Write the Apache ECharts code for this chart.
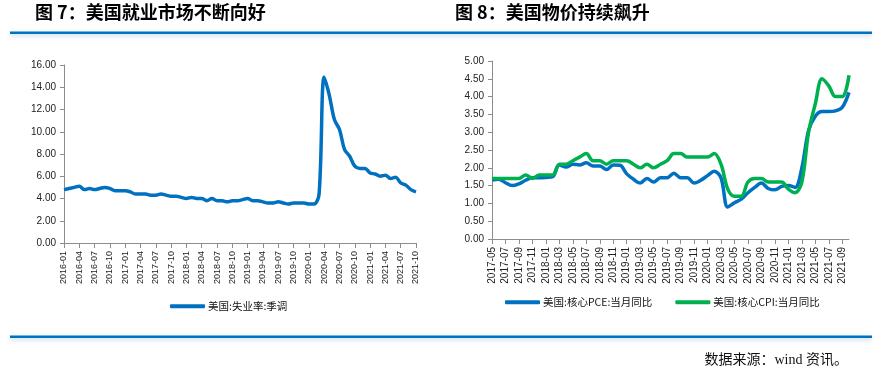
<!DOCTYPE html>
<html>
<head>
<meta charset="utf-8">
<script src="https://cdn.jsdelivr.net/npm/echarts@6/dist/echarts.min.js"></script>
<style>
html,body{margin:0;padding:0;background:#fff;}
#c{width:877px;height:380px;}
</style>
</head>
<body>
<div id="c"></div>
<script>
function months(y, m, n) {
  var out = [];
  for (var i = 0; i < n; i++) {
    var mm = m + i, yy = y + Math.floor((mm - 1) / 12);
    mm = ((mm - 1) % 12) + 1;
    out.push(yy + '-' + (mm < 10 ? '0' + mm : mm));
  }
  return out;
}
// Left chart: 2016-01 .. 2021-10
var leftCategories = months(2016, 1, 70);
var unemployment = [
  4.8, 4.9, 5.0, 5.1, 4.8, 4.9, 4.8, 4.9, 5.0, 4.9, 4.7, 4.7,
  4.7, 4.6, 4.4, 4.4, 4.4, 4.3, 4.3, 4.4, 4.3, 4.2, 4.2, 4.1,
  4.0, 4.1, 4.0, 4.0, 3.8, 4.0, 3.8, 3.8, 3.7, 3.8, 3.8, 3.9,
  4.0, 3.8, 3.8, 3.7, 3.6, 3.6, 3.7, 3.6, 3.5, 3.6, 3.6, 3.6,
  3.5, 3.5, 4.4, 14.9, 13.3, 11.1, 10.2, 8.4, 7.8, 6.9, 6.7, 6.7,
  6.3, 6.2, 6.0, 6.1, 5.8, 5.9, 5.4, 5.2, 4.8, 4.6
];
var leftTicks = [0, 2, 4, 6, 8, 10, 12, 14, 16];

// Right chart: 2017-05 .. 2021-10
var rightCategories = months(2017, 5, 54);
var corePCE = [
  1.66, 1.68, 1.58, 1.50, 1.55, 1.65, 1.72, 1.72,
  1.73, 1.75, 2.08, 2.02, 2.10, 2.08, 2.14, 2.05, 2.05, 1.95, 2.08, 2.07,
  1.83, 1.68, 1.57, 1.70, 1.60, 1.72, 1.72, 1.85, 1.72, 1.72, 1.57, 1.65,
  1.78, 1.90, 1.72, 0.90, 1.02, 1.12, 1.30, 1.45, 1.57, 1.42, 1.38, 1.48,
  1.50, 1.45, 2.00, 3.05, 3.45, 3.58, 3.58, 3.60, 3.70, 4.12
];
var coreCPI = [
  1.7, 1.7, 1.7, 1.7, 1.7, 1.8, 1.7, 1.8,
  1.8, 1.8, 2.1, 2.1, 2.2, 2.3, 2.4, 2.2, 2.2, 2.1, 2.2, 2.2,
  2.2, 2.1, 2.0, 2.1, 2.0, 2.1, 2.2, 2.4, 2.4, 2.3, 2.3, 2.3,
  2.3, 2.4, 2.1, 1.4, 1.2, 1.2, 1.6, 1.7, 1.7, 1.6, 1.6, 1.6,
  1.4, 1.3, 1.6, 3.0, 3.8, 4.5, 4.3, 4.0, 4.0, 4.6
];
var rightTicks = [0, 0.5, 1, 1.5, 2, 2.5, 3, 3.5, 4, 4.5, 5];

var titleLeft = '图 7：美国就业市场不断向好';
var titleRight = '图 8：美国物价持续飙升';
var seriesNames = ['美国:失业率:季调', '美国:核心PCE:当月同比', '美国:核心CPI:当月同比'];
var source = '数据来源：wind 资讯。';

var BLUE = '#0070C0', GREEN = '#00B050';
var axisColor = '#8c8c8c', labelColor = '#222';
var latin = '"Liberation Sans", Arial, "Noto Sans CJK SC", sans-serif';
var cjk = '"Noto Sans CJK SC", sans-serif';

function xAxis(idx, cats, interval, fs) {
  return {
    type: 'category', gridIndex: idx, data: cats, boundaryGap: false,
    axisLine: {lineStyle: {color: axisColor, width: 1}},
    axisTick: {show: true, interval: interval, length: 5, lineStyle: {color: axisColor}},
    axisLabel: {interval: interval, rotate: 90, margin: 8, fontSize: fs, color: labelColor, fontFamily: latin},
    splitLine: {show: false}
  };
}
function yAxis(idx, ticks) {
  return {
    type: 'value', gridIndex: idx, min: ticks[0], max: ticks[ticks.length - 1],
    interval: ticks[1] - ticks[0],
    axisLine: {show: true, lineStyle: {color: axisColor, width: 1}},
    axisTick: {show: true, length: 4, lineStyle: {color: axisColor}},
    axisLabel: {margin: 8, fontSize: 10, color: labelColor, fontFamily: latin,
      formatter: function (v) { return v.toFixed(2); }},
    splitLine: {show: false}
  };
}
function lineSeries(name, data, color, xi, yi) {
  return {
    name: name, type: 'line', data: data, xAxisIndex: xi, yAxisIndex: yi,
    smooth: 0.35, symbol: 'none', lineStyle: {color: color, width: 3.5},
    itemStyle: {color: color}, animation: false
  };
}

var chart = echarts.init(document.getElementById('c'), null, {renderer: 'canvas'});
chart.setOption({
  animation: false,
  backgroundColor: '#fff',
  grid: [
    {left: 64, right: 877 - 416, top: 65, bottom: 380 - 243, containLabel: false},
    {left: 492, right: 877 - 849, top: 61, bottom: 380 - 239, containLabel: false}
  ],
  xAxis: [xAxis(0, leftCategories, 2, 9), xAxis(1, rightCategories, 1, 10)],
  yAxis: [yAxis(0, leftTicks), yAxis(1, rightTicks)],
  legend: [
    {data: [seriesNames[0]], left: 170, top: 301, padding: 0, itemWidth: 35, itemHeight: 4, itemGap: 23,
      icon: 'roundRect', textStyle: {fontSize: 10.5, color: '#111', fontFamily: cjk, padding: [0, 0, 0, -2]}},
    {data: [seriesNames[1], seriesNames[2]], left: 505, top: 297, padding: 0, itemWidth: 35, itemHeight: 4, itemGap: 23,
      icon: 'roundRect', textStyle: {fontSize: 10.5, color: '#111', fontFamily: cjk, padding: [0, 0, 0, -2]}}
  ],
  series: [
    lineSeries(seriesNames[0], unemployment, BLUE, 0, 0),
    lineSeries(seriesNames[1], corePCE, BLUE, 1, 1),
    lineSeries(seriesNames[2], coreCPI, GREEN, 1, 1)
  ],
  graphic: [
    {type: 'text', left: 35, top: 3, style: {text: titleLeft, font: 'bold 18px ' + cjk, fill: '#000'}},
    {type: 'text', left: 455, top: 3, style: {text: titleRight, font: 'bold 18px ' + cjk, fill: '#000'}},
    {type: 'rect', shape: {x: 10, y: 31.5, width: 862, height: 2.5},
      style: {fill: BLUE, shadowBlur: 4, shadowOffsetY: 2, shadowColor: 'rgba(0,90,170,0.25)'}},
    {type: 'rect', shape: {x: 10, y: 335.5, width: 862, height: 2.5},
      style: {fill: BLUE, shadowBlur: 4, shadowOffsetY: 2, shadowColor: 'rgba(0,90,170,0.25)'}},
    {type: 'text', right: 877 - 848, top: 353,
      style: {text: source, font: '14px "Liberation Serif", "Noto Sans CJK SC", serif', fill: '#111'}}
  ]
});
</script>
</body>
</html>
